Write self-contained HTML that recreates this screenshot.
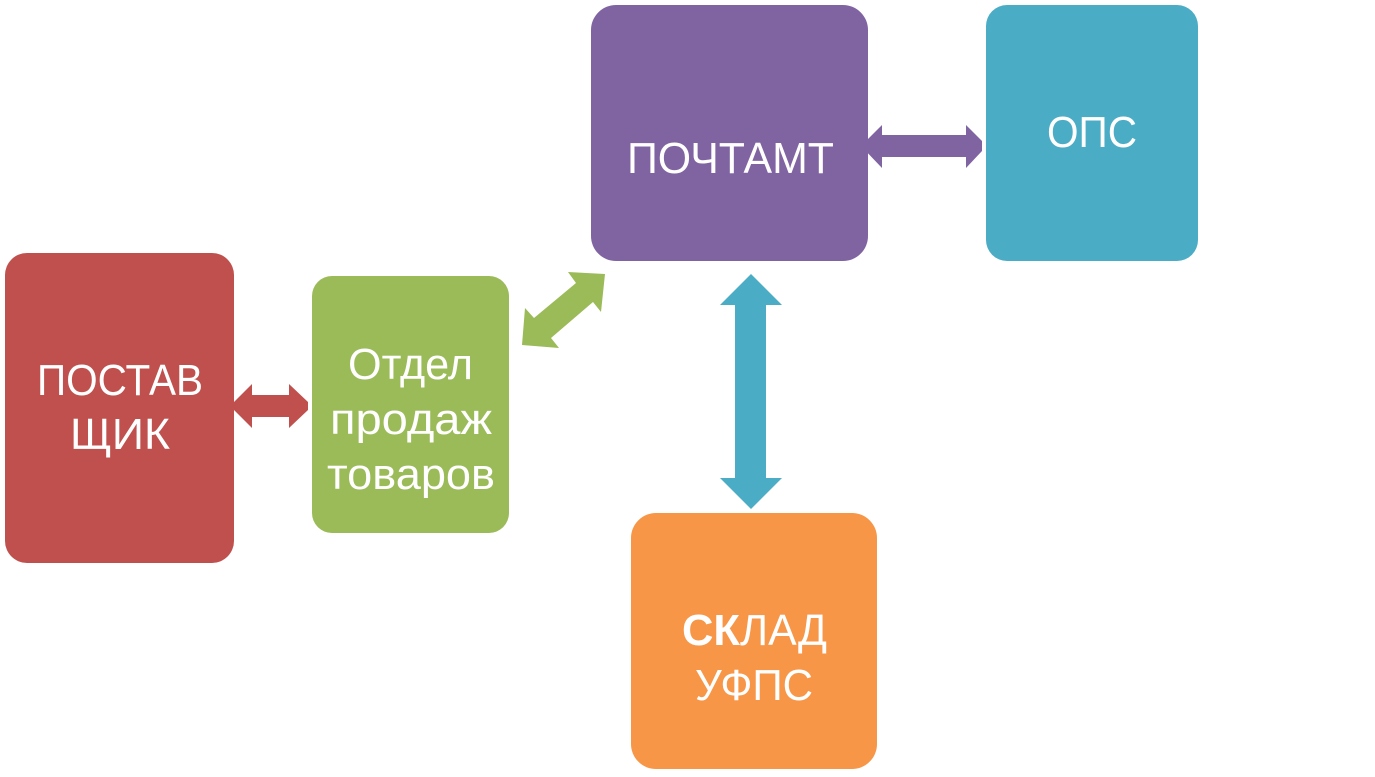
<!DOCTYPE html>
<html lang="ru">
<head>
<meta charset="utf-8">
<title>Схема</title>
<style>
html,body{margin:0;padding:0;background:#fff;width:1375px;height:777px;overflow:hidden}
svg{display:block}
text{font-family:"Liberation Sans",sans-serif;font-size:44px;fill:#fff}
</style>
</head>
<body>
<svg width="1375" height="777" viewBox="0 0 1375 777" xmlns="http://www.w3.org/2000/svg">
<rect width="1375" height="777" fill="#fff"/>
<polygon fill="#c0504d" points="230,406 252,384 252,395 289,395 289,384 308,402 308,410 289,428 289,417 252,417 252,428"/>
<polygon fill="#9bbb59" points="605,274 568,272 576,283 534,318 525,308 522,345 559,348 551,338 593,302 601,312"/>
<polygon fill="#8064a2" points="861,146 882,125 882,135 966,135 966,125 982,141 982,151 966,168 966,157 882,157 882,168"/>
<polygon fill="#4bacc6" points="751,274 782,305 766,305 766,478 782,478 751,509 720,478 735,478 735,305 720,305"/>
<rect x="5" y="253" width="229" height="310" rx="22" fill="#c0504d"/>
<rect x="312" y="276" width="197" height="257" rx="20" fill="#9bbb59"/>
<rect x="591" y="5" width="277" height="256" rx="25" fill="#8064a2"/>
<rect x="986" y="5" width="212" height="256" rx="21" fill="#4bacc6"/>
<rect x="631" y="513" width="246" height="256" rx="25" fill="#f79646"/>
<text x="37" y="395" textLength="166" lengthAdjust="spacingAndGlyphs">ПОСТАВ</text>
<text x="70" y="449" textLength="100" lengthAdjust="spacingAndGlyphs">ЩИК</text>
<text x="348" y="379" textLength="125" lengthAdjust="spacingAndGlyphs">Отдел</text>
<text x="330" y="434" textLength="162" lengthAdjust="spacingAndGlyphs">продаж</text>
<text x="327" y="489" textLength="168" lengthAdjust="spacingAndGlyphs">товаров</text>
<text x="627" y="173" textLength="207" lengthAdjust="spacingAndGlyphs">ПОЧТАМТ</text>
<text x="1047" y="147" textLength="90" lengthAdjust="spacingAndGlyphs">ОПС</text>
<text x="682" y="645" textLength="58" lengthAdjust="spacingAndGlyphs" font-weight="bold">СК</text>
<text x="740" y="645" textLength="87" lengthAdjust="spacingAndGlyphs">ЛАД</text>
<text x="695" y="700" textLength="118" lengthAdjust="spacingAndGlyphs">УФПС</text>
</svg>
</body>
</html>
